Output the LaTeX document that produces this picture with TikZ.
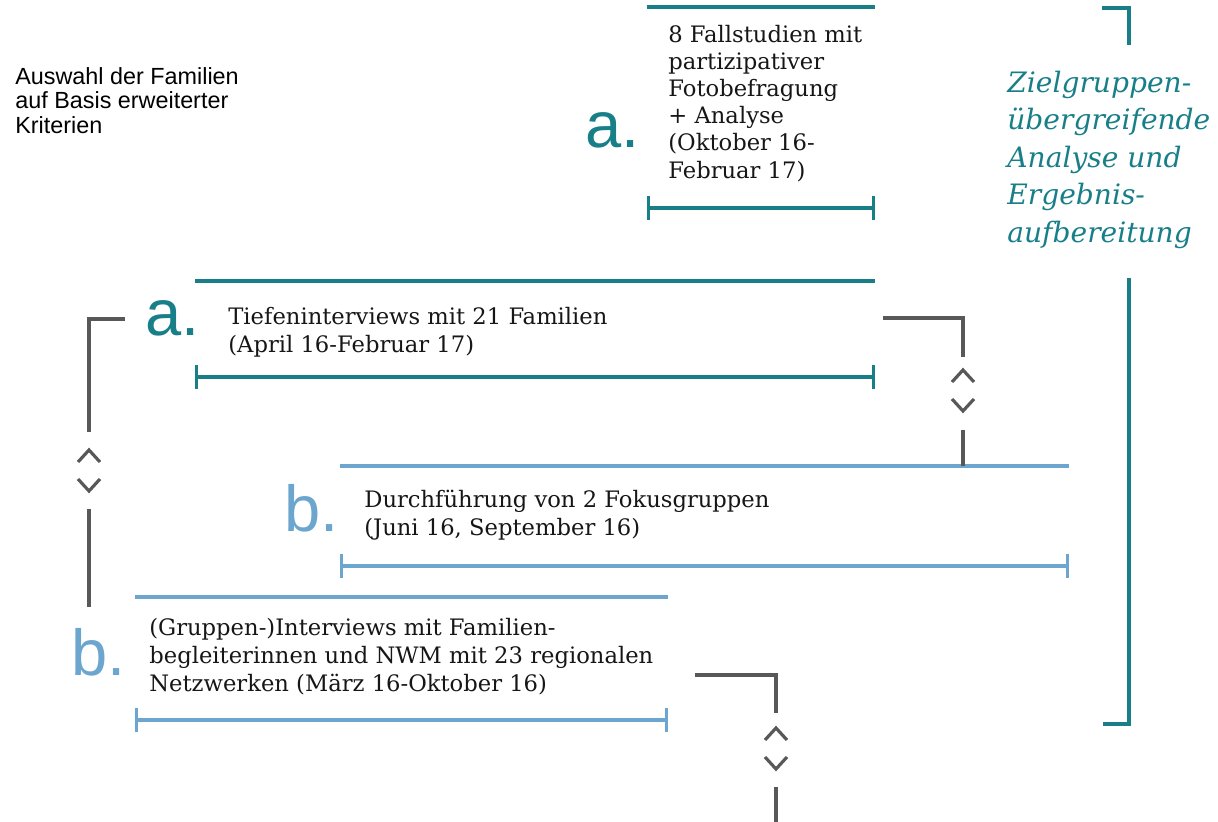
\documentclass[tikz,border=0pt]{standalone}
\usepackage{fontspec}
\setmainfont{DejaVu Serif}
\setsansfont{Liberation Sans}
\usepackage{tikz}
\usetikzlibrary{arrows.meta}
\definecolor{petrol}{RGB}{24,127,137}
\definecolor{skyblue}{RGB}{108,166,206}
\definecolor{linkgray}{RGB}{88,88,88}
\definecolor{inktext}{RGB}{22,22,22}
% multi-line nodes: base west sits on the LAST line
\tikzset{
  phasetext/.style={anchor=base west, inner sep=0pt, align=left, text=inktext,
                    font=\fontsize{12.9}{15.9}\selectfont},
  notetext/.style={anchor=base west, inner sep=0pt, align=left, text=black,
                   font=\sffamily\fontsize{13.3}{13.7}\selectfont},
  bigletter/.style={anchor=base west, inner sep=0pt,
                    font=\sffamily\fontsize{37}{37}\selectfont},
  resulttext/.style={anchor=base west, inner sep=0pt, align=left, text=petrol,
                     font=\itshape\fontsize{16}{21.3}\selectfont},
  topline/.style={line width=1.9pt},
  spanbar/.style={line width=1.9pt, {Bar[width=4.8mm]}-{Bar[width=4.8mm]}},
  link/.style={line width=1.8pt, color=linkgray},
  bracket/.style={line width=2.6pt, color=petrol},
}

\begin{document}
\begin{tikzpicture}[x=0.02cm, y=-0.02cm]
  \useasboundingbox (0,0) rectangle (1218,822);

  % note on the left
  \node[notetext] (auswahl) at (15,133) {Auswahl der Familien\\auf Basis erweiterter\\Kriterien};

  % phase a: Fallstudien
  \draw[topline, petrol] (647,7) -- (875,7);
  \node[bigletter, petrol] (fallA) at (585,147) {a.};
  \node[phasetext, font=\fontsize{12.9}{15.4}\selectfont] (fall) at (668,178)
       {8 Fallstudien mit\\partizipativer\\Fotobefragung\\+ Analyse\\(Oktober 16-\\Februar 17)};
  \draw[spanbar, petrol] (647,208) -- (875,208);

  % phase a: Tiefeninterviews
  \draw[topline, petrol] (195,281) -- (875,281);
  \node[bigletter, petrol] (tiefA) at (145,335) {a.};
  \node[phasetext] (tief) at (228,352) {Tiefeninterviews mit 21 Familien\\(April 16-Februar 17)};
  \draw[spanbar, petrol] (195,377) -- (875,377);

  % phase b: Fokusgruppen
  \draw[topline, skyblue] (340,466) -- (1069,466);
  \node[bigletter, skyblue] (fokusB) at (284,531) {b.};
  \node[phasetext] (fokus) at (364,535) {Durchführung von 2 Fokusgruppen\\(Juni 16, September 16)};
  \draw[spanbar, skyblue] (340,566) -- (1069,566);

  % phase b: Gruppeninterviews
  \draw[topline, skyblue] (135,597) -- (668,597);
  \node[bigletter, skyblue] (gruppB) at (71,675) {b.};
  \node[phasetext] (grupp) at (149,691)
       {(Gruppen-)Interviews mit Familien-\\begleiterinnen und NWM mit 23 regionalen\\Netzwerken (März 16-Oktober 16)};
  \draw[spanbar, skyblue] (135,720) -- (668,720);

  % links between the phases
  \coordinate (linkL1) at (125,319);  \coordinate (linkL2) at (89,432);
  \coordinate (linkL3) at (89,509);   \coordinate (linkL4) at (89,607);
  \coordinate (linkR1) at (883,318);  \coordinate (linkR2) at (963,357);
  \coordinate (linkR3) at (963,430);  \coordinate (linkR4) at (963,466);
  \coordinate (linkB1) at (695,675);  \coordinate (linkB2) at (776,713);
  \coordinate (linkB3) at (776,787);  \coordinate (linkB4) at (776,822);
  \draw[link] (linkL1) -| (linkL2);
  \draw[link] (linkL3) -- (linkL4);
  \draw[link] (linkR1) -| (linkR2);
  \draw[link] (linkR3) -- (linkR4);
  \draw[link] (linkB1) -| (linkB2);
  \draw[link] (linkB3) -- (linkB4);
  \foreach \cx/\cy in {89/456, 963/376, 776/734} {
    \draw[link] (\cx-11,\cy+6) -- (\cx,\cy-6) -- (\cx+11,\cy+6);
    \draw[link] (\cx-11,\cy+23) -- (\cx,\cy+35) -- (\cx+11,\cy+23);
  }

  % result on the right
  \draw[bracket] (1102,8) -- (1129,8) -- (1129,45);
  \node[resulttext] (ergebnis) at (1007,242)
       {Zielgruppen-\\übergreifende\\Analyse und\\Ergebnis-\\aufbereitung};
  \draw[bracket] (1129,278) -- (1129,724) -- (1103,724);
\end{tikzpicture}
\end{document}
